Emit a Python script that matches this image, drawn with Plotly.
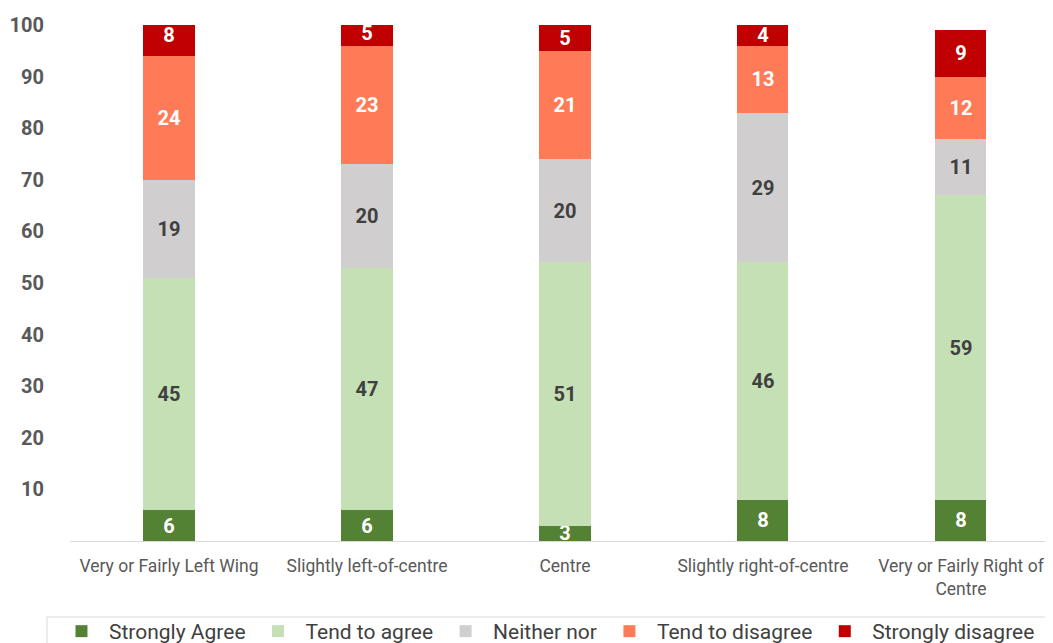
import plotly.graph_objects as go

categories = ["Very or Fairly Left Wing", "Slightly left-of-centre", "Centre",
              "Slightly right-of-centre", "Very or Fairly Right of<br>Centre"]
strongly_agree = [6, 6, 3, 8, 8]
tend_to_agree = [45, 47, 51, 46, 59]
neither_nor = [19, 20, 20, 29, 11]
tend_to_disagree = [24, 23, 21, 13, 12]
strongly_disagree = [8, 5, 5, 4, 9]
y_ticks = [10, 20, 30, 40, 50, 60, 70, 80, 90, 100]

series = [
    ("Strongly Agree", strongly_agree, "#548235", "#FFFFFF"),
    ("Tend to agree", tend_to_agree, "#C5E0B4", "#404040"),
    ("Neither nor", neither_nor, "#D0CECE", "#404040"),
    ("Tend to disagree", tend_to_disagree, "#FF7B57", "#FFFFFF"),
    ("Strongly disagree", strongly_disagree, "#C00000", "#FFFFFF"),
]

FONT = "Roboto"
fig = go.Figure()
for name, vals, color, tcolor in series:
    fig.add_trace(go.Bar(
        name=name, x=categories, y=vals, width=0.258,
        marker=dict(color=color, line=dict(width=0)),
        text=vals, texttemplate="%{text}", textposition="inside",
        insidetextanchor="middle", constraintext="none", textangle=0,
        textfont=dict(family=FONT, size=20, color=tcolor, weight="bold"),
        cliponaxis=True,
    ))

# page body has an 8px default margin; figure sits at (8, 8)
fig.update_layout(
    barmode="stack",
    width=1045, height=635,
    margin=dict(l=62, r=0, t=17, b=102, autoexpand=False),
    paper_bgcolor="white", plot_bgcolor="white",
    font=dict(family=FONT, color="#595959"),
    showlegend=True,
    legend=dict(
        orientation="h", x=-0.0163, xanchor="left", y=-0.1357, yanchor="top",
        borderwidth=0, bgcolor="rgba(0,0,0,0)",
        font=dict(family=FONT, size=21, color="#404040"),
        itemwidth=45, traceorder="normal",
    ),
    shapes=[dict(
        type="rect", xref="paper", yref="paper",
        x0=-0.0234, x1=1.05, y0=-0.1473, y1=-0.30,
        line=dict(color="#D9D9D9", width=1), fillcolor="rgba(0,0,0,0)",
    )],
    xaxis=dict(
        range=[-0.5, 4.465], showgrid=False, showline=True, linecolor="#D9D9D9",
        linewidth=1, ticks="", tickfont=dict(family=FONT, size=17.5, color="#595959"),
        ticklabelstandoff=9,
    ),
    yaxis=dict(
        range=[0, 100], tickvals=y_ticks, showgrid=False, showline=False,
        zeroline=False, ticks="",
        tickfont=dict(family=FONT, size=20, color="#595959", weight="bold"),
        ticklabelstandoff=25,
    ),
)

fig.write_html("out.html")
